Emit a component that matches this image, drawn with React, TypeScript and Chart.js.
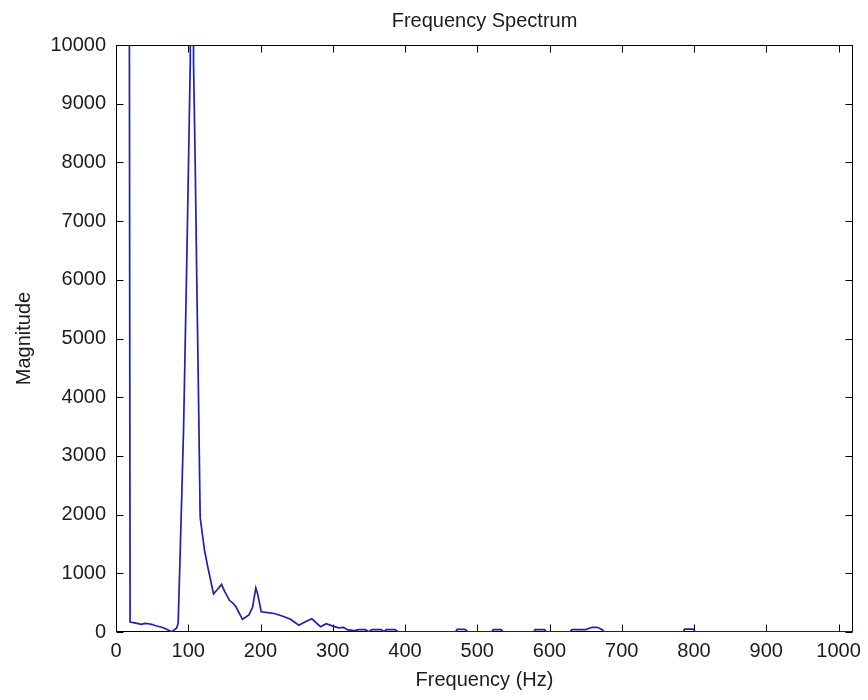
import React, { useEffect, useRef } from "react";
import { Chart, registerables } from "chart.js";

Chart.register(...registerables);

// Frequency (Hz) and magnitude of the spectrum vertices
const freqHz = [
  0, 19.5, 24, 29, 35, 40, 45, 49, 56, 62, 67, 72, 77, 81, 84, 86,
  88.5, 93.5, 98, 102.8, 104.5, 106, 107.3, 109.6, 111.8, 114.2, 116.5, 122.4, 127,
  135, 140, 146, 150, 157, 162, 166, 175, 184, 189, 193.5, 196, 201, 210,
  219, 230, 241.6, 253, 262, 271, 283, 291, 299, 308, 315, 320, 329, 336,
  345, 350, 354, 367, 371, 374, 386, 391, 470, 472, 483, 487, 520, 522,
  533, 536, 578, 580, 593, 596, 628, 631, 650, 659, 666, 673, 676, 785,
  787, 799, 802, 1020,
];
const magnitude = [
  200000, 170, 160, 148, 131, 148, 140, 131, 102, 85, 63, 35, 5, 40, 70, 150,
  1200, 3450, 6350, 9700, 60000, 60000, 9700, 8000, 6000, 4000, 1950, 1400, 1110,
  650, 720, 810, 700, 540, 490, 430, 216, 290, 420, 750, 650, 345, 330,
  315, 272, 216, 115, 176, 225, 90, 140, 105, 70, 80, 40, 22, 40,
  40, 5, 40, 40, 5, 40, 40, 0, 0, 45, 45, 0, 0, 40,
  40, 0, 0, 40, 40, 0, 0, 40, 40, 80, 80, 40, 0, 0,
  50, 50, 0, 0,
];

const xTickValues = [0, 100, 200, 300, 400, 500, 600, 700, 800, 900, 1000];
const yTickValues = [0, 1000, 2000, 3000, 4000, 5000, 6000, 7000, 8000, 9000, 10000];
const xRange = [0, 1020];
const yRange = [0, 10000];

const titleText = "Frequency Spectrum";
const xTitle = "Frequency (Hz)";
const yTitle = "Magnitude";

const FONT = "'Liberation Sans', Arial, Helvetica, sans-serif";
const TEXT = "#1c1c1c";
const LINE = "rgb(32, 32, 168)";

const boxAndTicks = {
  id: "boxAndTicks",
  beforeDatasetsDraw(chart: any) {
    const { ctx, chartArea, scales } = chart;
    const { left, right, top, bottom } = chartArea;
    const L = Math.round(left) + 0.5;
    const R = Math.round(right) - 0.5;
    const T = Math.round(top) + 0.5;
    const B = Math.round(bottom) - 0.5;
    const len = 7;
    ctx.save();
    ctx.strokeStyle = "#000";
    ctx.lineWidth = 1;
    ctx.strokeRect(L, T, R - L, B - T);
    ctx.beginPath();
    scales.x.ticks.forEach((t: any) => {
      const px = Math.round(scales.x.getPixelForValue(t.value)) + 0.5;
      ctx.moveTo(px, B);
      ctx.lineTo(px, B - len);
      ctx.moveTo(px, T);
      ctx.lineTo(px, T + len);
    });
    scales.y.ticks.forEach((t: any) => {
      const py = Math.round(scales.y.getPixelForValue(t.value)) + 0.5;
      ctx.moveTo(L, py);
      ctx.lineTo(L + len, py);
      ctx.moveTo(R, py);
      ctx.lineTo(R - len, py);
    });
    ctx.stroke();
    ctx.restore();
  },
  afterDraw(chart: any) {
    const { ctx, chartArea } = chart;
    ctx.save();
    ctx.fillStyle = TEXT;
    ctx.font = `20px ${FONT}`;
    ctx.textAlign = "center";
    ctx.textBaseline = "middle";
    ctx.fillText(titleText, (chartArea.left + chartArea.right) / 2, 21);
    ctx.restore();
  },
};

export default function App() {
  const ref = useRef<HTMLCanvasElement>(null);

  useEffect(() => {
    if (!ref.current) return;
    const points = freqHz.map((f, i) => ({ x: f, y: magnitude[i] }));
    const chart = new Chart(ref.current, {
      type: "line",
      data: {
        datasets: [
          {
            label: yTitle,
            data: points,
            borderColor: LINE,
            borderWidth: 1.7,
            pointRadius: 0,
            tension: 0,
            fill: false,
          },
        ],
      },
      options: {
        animation: false,
        responsive: false,
        devicePixelRatio: 1,
        layout: { padding: { left: 0, right: 10, top: 45, bottom: 0 } },
        plugins: {
          legend: { display: false },
          tooltip: { enabled: false },
          title: { display: false },
        },
        scales: {
          x: {
            type: "linear",
            min: xRange[0],
            max: xRange[1],
            grid: { display: false, drawTicks: false },
            border: { display: false },
            afterBuildTicks: (s: any) => {
              s.ticks = xTickValues.map((v) => ({ value: v }));
            },
            afterFit: (s: any) => {
              s.height = 68;
            },
            ticks: {
              autoSkip: false,
              maxRotation: 0,
              padding: 7,
              color: TEXT,
              font: { family: FONT, size: 20 },
              callback: (v: any) => String(v),
            },
            title: {
              display: true,
              text: xTitle,
              color: TEXT,
              font: { family: FONT, size: 20 },
              padding: { top: 0, bottom: 8 },
            },
          },
          y: {
            type: "linear",
            min: yRange[0],
            max: yRange[1],
            grid: { display: false, drawTicks: false },
            border: { display: false },
            afterBuildTicks: (s: any) => {
              s.ticks = yTickValues.map((v) => ({ value: v }));
            },
            afterFit: (s: any) => {
              s.width = 116;
            },
            ticks: {
              autoSkip: false,
              padding: 10,
              color: TEXT,
              font: { family: FONT, size: 20 },
              callback: (v: any) => String(v),
            },
            title: {
              display: true,
              text: yTitle,
              color: TEXT,
              font: { family: FONT, size: 20 },
              padding: { top: 12, bottom: 0 },
            },
          },
        },
      },
      plugins: [boxAndTicks],
    });
    return () => chart.destroy();
  }, []);

  return (
    <div
      style={{
        position: "absolute",
        left: 0,
        top: 0,
        width: 868,
        height: 700,
        background: "#fff",
      }}
    >
      <canvas ref={ref} width={868} height={700} />
    </div>
  );
}
